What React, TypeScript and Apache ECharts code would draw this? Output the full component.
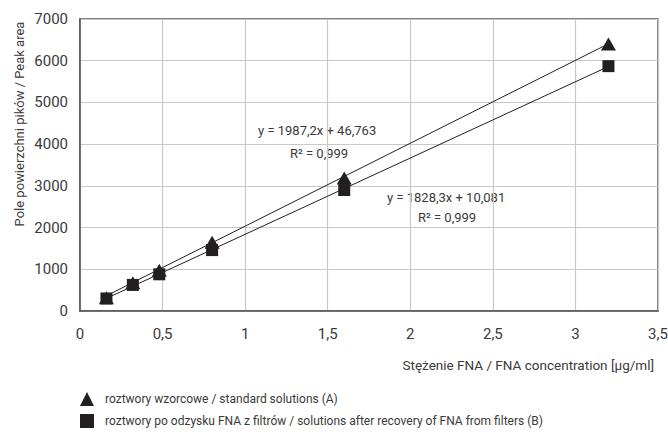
import React, { useEffect, useRef } from "react";
import * as echarts from "echarts";

const concentrations = [0.16, 0.32, 0.48, 0.8, 1.6, 3.2];
const standardArea = [320, 680, 975, 1650, 3190, 6400];
const recoveredArea = [300, 625, 880, 1460, 2900, 5870];
const trendStandardEnds = [[0.16, 365], [3.2, 6406]];
const trendRecoveredEnds = [[0.16, 303], [3.2, 5861]];
const seriesNames = [
  "roztwory wzorcowe / standard solutions (A)",
  "roztwory po odzysku FNA z filtrów / solutions after recovery of FNA from filters (B)",
];
const eqA = ["y = 1987,2x + 46,763", "R² = 0,999"];
const eqB = ["y = 1828,3x + 10,081", "R² = 0,999"];
const xAxisTitle = "Stężenie FNA / FNA concentration [µg/ml]";
const yAxisTitle = "Pole powierzchni pików / Peak area";

const FONT = "Roboto, sans-serif";
const INK = "#231f20";
const TXT = "#3a3a3a";

export default function App() {
  const ref = useRef<HTMLDivElement>(null);
  useEffect(() => {
    if (!ref.current) return;
    const chart = echarts.init(ref.current, undefined, { renderer: "svg" });
    const textStyle = {
      fontFamily: FONT,
      fill: TXT,
      fontSize: 13,
      verticalAlign: "middle" as const,
    };
    chart.setOption({
      animation: false,
      textStyle: { fontFamily: FONT },
      grid: {
        left: 80,
        right: 10,
        top: 19,
        bottom: 123,
        show: true,
        borderColor: "#555",
        borderWidth: 1.5,
        containLabel: false,
        outerBoundsMode: "none",
      },
      xAxis: {
        type: "value",
        min: 0,
        max: 3.5,
        interval: 0.5,
        axisLine: { show: true, lineStyle: { color: "#555", width: 1.5 } },
        axisTick: { show: false },
        splitLine: { show: true, lineStyle: { color: "#c8c8c8", width: 1.2 } },
        axisLabel: {
          fontFamily: FONT,
          fontSize: 15,
          color: TXT,
          margin: 15,
          formatter: (v: number) => String(v).replace(".", ","),
        },
      },
      yAxis: {
        type: "value",
        min: 0,
        max: 7000,
        interval: 1000,
        axisLine: { show: true, lineStyle: { color: "#555", width: 1.5 } },
        axisTick: { show: false },
        splitLine: { show: true, lineStyle: { color: "#c8c8c8", width: 1.2 } },
        axisLabel: {
          fontFamily: FONT,
          fontSize: 15,
          color: TXT,
          margin: 12,
          formatter: (v: number) => String(v),
        },
      },
      legend: {
        orient: "vertical",
        left: 80,
        top: 392,
        padding: 0,
        itemGap: 8,
        itemWidth: 14,
        itemHeight: 14,
        textStyle: {
          fontFamily: FONT,
          fontSize: 12,
          color: TXT,
          padding: [0, 0, 0, 6],
        },
        data: [
          { name: seriesNames[0], icon: "triangle" },
          { name: seriesNames[1], icon: "rect" },
        ],
      },
      series: [
        {
          type: "line",
          data: trendStandardEnds,
          showSymbol: false,
          symbol: "none",
          lineStyle: { color: INK, width: 1 },
          silent: true,
          z: 1,
        },
        {
          type: "line",
          data: trendRecoveredEnds,
          showSymbol: false,
          symbol: "none",
          lineStyle: { color: INK, width: 1 },
          silent: true,
          z: 1,
        },
        {
          name: seriesNames[0],
          type: "scatter",
          symbol: "triangle",
          symbolSize: [15, 13],
          itemStyle: { color: INK, opacity: 1 },
          data: concentrations.map((x, i) => [x, standardArea[i]]),
          z: 3,
        },
        {
          name: seriesNames[1],
          type: "scatter",
          symbol: "rect",
          symbolSize: 12,
          itemStyle: { color: INK, opacity: 1 },
          data: concentrations.map((x, i) => [x, recoveredArea[i]]),
          z: 4,
        },
      ],
      graphic: [
        {
          type: "text",
          x: 19,
          y: 124,
          rotation: Math.PI / 2,
          style: { text: yAxisTitle, ...textStyle, align: "center" },
        },
        {
          type: "text",
          x: 654,
          y: 365,
          style: { text: xAxisTitle, ...textStyle, fontSize: 13.5, align: "right" },
        },
        {
          type: "text",
          x: 258,
          y: 130,
          style: { text: eqA[0], ...textStyle },
        },
        {
          type: "text",
          x: 290,
          y: 153,
          style: { text: eqA[1], ...textStyle },
        },
        {
          type: "text",
          x: 387,
          y: 197,
          style: { text: eqB[0], ...textStyle },
        },
        {
          type: "text",
          x: 418,
          y: 217,
          style: { text: eqB[1], ...textStyle },
        },
      ],
    });
    return () => chart.dispose();
  }, []);
  return (
    <div
      ref={ref}
      style={{ position: "absolute", left: 0, top: 0, width: 668, height: 434 }}
    />
  );
}
